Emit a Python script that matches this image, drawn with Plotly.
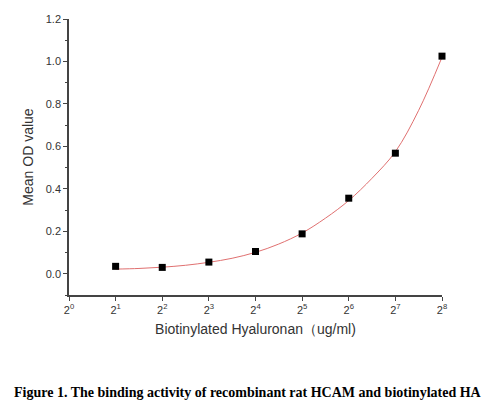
import math
import plotly.graph_objects as go

# measured points (concentration in ug/ml, mean OD)
conc = [2, 4, 8, 16, 32, 64, 128, 256]
mean_od = [0.035, 0.030, 0.055, 0.105, 0.188, 0.356, 0.568, 1.025]

# fitted curve
fit_conc = [2, 2.83, 4, 5.66, 8, 11.3, 16, 22.6, 32, 45.3, 64, 90.5, 128, 181, 256]
fit_od = [0.022, 0.025, 0.031, 0.040, 0.054, 0.073, 0.101, 0.140, 0.192, 0.262, 0.345, 0.450, 0.575, 0.770, 1.020]

tick_vals = [1, 2, 4, 8, 16, 32, 64, 128, 256]
tick_text = ["2<sup>%d</sup>" % i for i in range(9)]

fig = go.Figure()
fig.add_trace(go.Scatter(x=fit_conc, y=fit_od, mode="lines", line_shape="spline",
                         line=dict(color="#e07070", width=1), hoverinfo="skip"))
fig.add_trace(go.Scatter(x=conc, y=mean_od, mode="markers", cliponaxis=False,
                         marker=dict(symbol="square", size=7, color="black")))

axis_font = dict(family="Liberation Sans, Arial", size=11, color="#333333")
title_font = dict(family="Liberation Sans, Arial", size=14, color="#333333")

fig.update_xaxes(type="log", range=[0, math.log10(256) + 1e-5], tickvals=tick_vals, ticktext=tick_text,
                 showline=True, linecolor="#444444", linewidth=1.5, ticks="outside",
                 ticklen=4, tickcolor="#444444", showgrid=False, zeroline=False,
                 tickfont=axis_font, automargin=False,
                 title=dict(text="Biotinylated Hyaluronan\uff08ug/ml)", font=title_font, standoff=9))
fig.update_yaxes(range=[-0.1, 1.2], tickvals=[0, 0.2, 0.4, 0.6, 0.8, 1.0, 1.2],
                 tickformat=".1f", showline=True, linecolor="#444444", linewidth=1.5,
                 ticks="outside", ticklen=4, tickcolor="#444444", showgrid=False,
                 zeroline=False, tickfont=axis_font, automargin=False,
                 minor=dict(dtick=0.1, ticks="outside", ticklen=2, tickcolor="#444444"),
                 title=dict(text="Mean OD value", font=title_font, standoff=9))

fig.add_annotation(text="<b>Figure 1. The binding activity of recombinant rat HCAM and biotinylated HA</b>",
                   xref="paper", yref="paper", x=0.4786, y=-0.355, showarrow=False,
                   xanchor="center", yanchor="middle",
                   font=dict(family="Liberation Serif, Times New Roman", size=14, color="black"))

# page body adds an 8px offset, so the figure is a bit smaller than the window
fig.update_layout(width=486, height=405, plot_bgcolor="white", paper_bgcolor="white",
                  showlegend=False, margin=dict(l=61, r=52, t=11, b=118))

fig.write_html("out.html")
